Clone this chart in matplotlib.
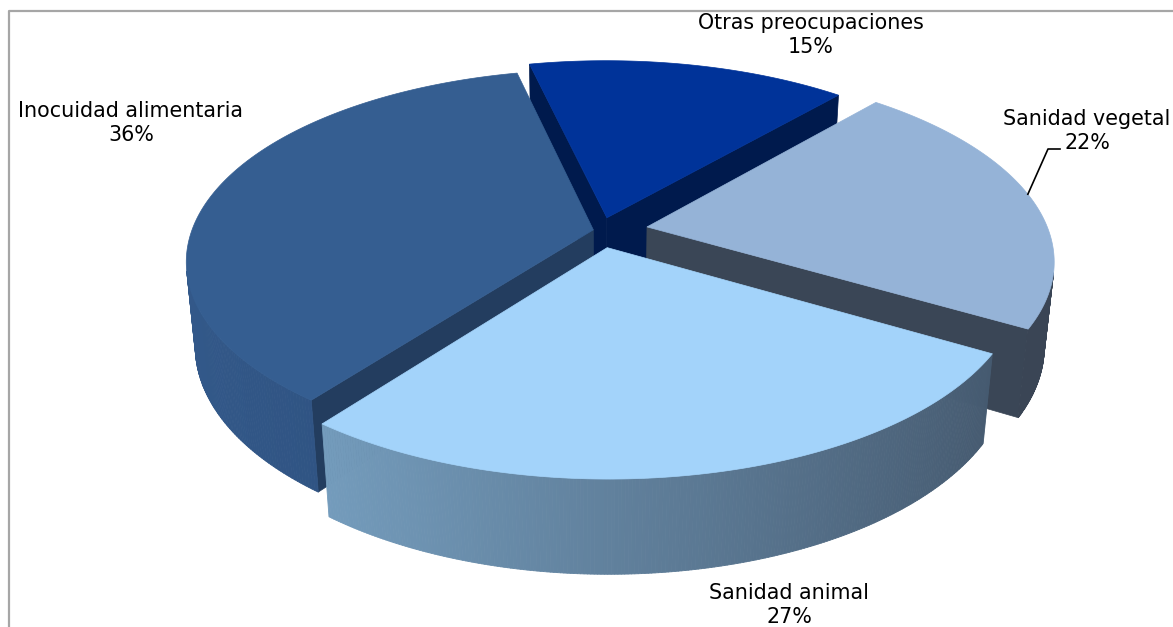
import numpy as np
import matplotlib.pyplot as plt
from matplotlib.patches import Polygon
from matplotlib.collections import PolyCollection
from matplotlib.colors import to_rgb

# data
categories = ["Otras preocupaciones", "Sanidad vegetal", "Sanidad animal", "Inocuidad alimentaria"]
values = [15, 22, 27, 36]

# colours: top face, wall (left / right), cut faces
top_cols = ["#003399", "#95b3d7", "#a3d3fa", "#355e91"]
wall_light = ["#001a4d", "#3c4758", "#80add0", "#33598a"]
wall_dark = ["#001a4d", "#3a4555", "#42556a", "#24416a"]
cut_cols = ["#001a4d", "#3a4656", "#3f5568", "#233d5f"]

# label positions (pixels)
label_pos = [(811, 35), (1087, 131), (789, 605), (131, 123)]

# view / geometry (3D pie with perspective)
W, H = 1173, 627
cx, cy = 600, 230.5
sphi = 0.472
cphi = np.sqrt(1 - sphi ** 2)
focal = 2113.0
dist = 5.336
fx = 1.014
depth_h = 0.245
explode = [0.071, 0.119, 0.092, 0.017]
start_angle = 102.9


def project(X, Y, Z):
    dep = Y * cphi - Z * sphi
    k = focal / (dist + dep)
    return cx + X * k * fx, cy - (Y * sphi + Z * cphi) * k


cam = np.array([0.0, -dist * cphi, dist * sphi])


def visible(normal, p):
    return np.dot(normal, cam - np.array(p)) > 0


def mix(c1, c2, f):
    a, b = np.array(to_rgb(c1)), np.array(to_rgb(c2))
    return tuple(b + (a - b) * f)


fig = plt.figure(figsize=(W / 100, H / 100), dpi=100)
ax = fig.add_axes([0, 0, 1, 1])
ax.set_xlim(0, W)
ax.set_ylim(H, 0)
ax.axis("off")

# slice angles, clockwise from start_angle
slices = []
hi = start_angle
for i, v in enumerate(values):
    span = 360.0 * v / sum(values)
    lo = hi - span
    mid = np.radians((hi + lo) / 2)
    ox, oy = explode[i] * np.cos(mid), explode[i] * np.sin(mid)
    slices.append(dict(i=i, lo=np.radians(lo), hi=np.radians(hi), ox=ox, oy=oy, mid=mid))
    hi = lo

# draw far slices first
slices.sort(key=lambda s: -(s["oy"] + 0.5 * np.sin(s["mid"])))

for s in slices:
    i, lo, hi, ox, oy = s["i"], s["lo"], s["hi"], s["ox"], s["oy"]
    t = np.linspace(lo, hi, 240)
    # cut faces
    for ang, nrm in ((hi, (-np.sin(hi), np.cos(hi), 0)), (lo, (np.sin(lo), -np.cos(lo), 0))):
        ex, ey = ox + np.cos(ang), oy + np.sin(ang)
        midp = ((ox + ex) / 2, (oy + ey) / 2, -depth_h / 2)
        if visible(nrm, midp):
            pts = [project(ox, oy, 0), project(ex, ey, 0), project(ex, ey, -depth_h), project(ox, oy, -depth_h)]
            ax.add_patch(Polygon(pts, closed=True, facecolor=cut_cols[i], edgecolor=cut_cols[i], lw=0.5))
    # outer wall
    quads, cols = [], []
    for a0, a1 in zip(t[:-1], t[1:]):
        am = (a0 + a1) / 2
        p = (ox + np.cos(am), oy + np.sin(am), -depth_h / 2)
        if not visible((np.cos(am), np.sin(am), 0), p):
            continue
        q = [project(ox + np.cos(a0), oy + np.sin(a0), 0), project(ox + np.cos(a1), oy + np.sin(a1), 0),
             project(ox + np.cos(a1), oy + np.sin(a1), -depth_h), project(ox + np.cos(a0), oy + np.sin(a0), -depth_h)]
        quads.append(q)
        cols.append(mix(wall_light[i], wall_dark[i], (1 - np.cos(am)) / 2))
    if quads:
        ax.add_collection(PolyCollection(quads, facecolors=cols, edgecolors=cols, linewidths=0.6))
    # top face
    top = [project(ox, oy, 0)] + [project(ox + np.cos(a), oy + np.sin(a), 0) for a in t]
    ax.add_patch(Polygon(top, closed=True, facecolor=top_cols[i], edgecolor=top_cols[i], lw=0.5))

# labels
for i, name in enumerate(categories):
    x, y = label_pos[i]
    ax.text(x, y, f"{name}\n{values[i]}%", ha="center", va="center", fontsize=14.9,
            family="DejaVu Sans", color="black", linespacing=1.2)

# leader line for Sanidad vegetal, from its rim to the label
veg = [s for s in slices if s["i"] == 1][0]
a_ld = veg["mid"] + 0.02
anchor = project(veg["ox"] + np.cos(a_ld), veg["oy"] + np.sin(a_ld), 0)
elbow = (label_pos[1][0] - 39, label_pos[1][1] + 18)
ax.plot([anchor[0], elbow[0], elbow[0] + 12], [anchor[1], elbow[1], elbow[1]], color="black", lw=1.2)

# chart frame (clipped at right / bottom)
ax.plot([9, 9, W + 5], [H + 5, 11, 11], color="#a6a6a6", lw=1.6, clip_on=False)

fig.savefig("out.png", dpi=100)
